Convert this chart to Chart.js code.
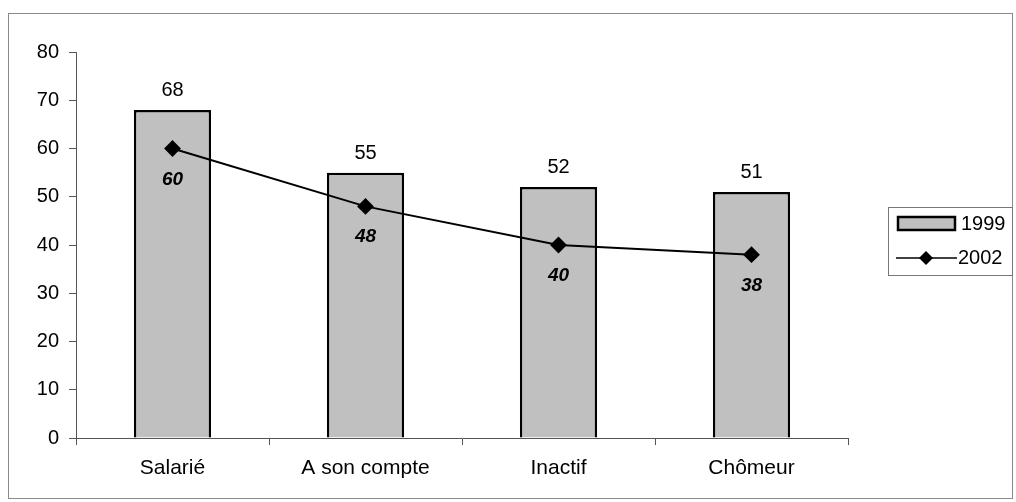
<!DOCTYPE html>
<html><head><meta charset="utf-8">
<script src="https://cdn.jsdelivr.net/npm/chart.js@4/dist/chart.umd.min.js"></script>
<style>html,body{margin:0;padding:0;background:#fff}#wrap{width:1016px;height:502px}</style>
</head><body><div id="wrap"><canvas id="c" width="1016" height="502"></canvas></div>
<script>
const categories = ["Salarié", "A son compte", "Inactif", "Chômeur"];
const values1999 = [68, 55, 52, 51];
const values2002 = [60, 48, 40, 38];
const yTicks = [0, 10, 20, 30, 40, 50, 60, 70, 80];
const seriesNames = ["1999", "2002"];

const FONT = "'Liberation Sans', Arial, sans-serif";

const decor = {
  id: 'decor',
  beforeDraw(chart) {
    const ctx = chart.ctx;
    ctx.save();
    ctx.strokeStyle = '#8a8a8a';
    ctx.lineWidth = 1;
    ctx.strokeRect(8.5, 13.5, 1004, 485);
    ctx.restore();
  },
  afterDatasetsDraw(chart) {
    const ctx = chart.ctx;
    ctx.save();
    ctx.fillStyle = '#000';
    ctx.textAlign = 'center';
    ctx.textBaseline = 'alphabetic';
    const mBar = chart.getDatasetMeta(1);
    ctx.font = '20px ' + FONT;
    mBar.data.forEach((el, i) => {
      ctx.fillText(String(values1999[i]), el.x, el.y - 14);
    });
    const mLine = chart.getDatasetMeta(0);
    ctx.font = 'italic bold 19px ' + FONT;
    mLine.data.forEach((el, i) => {
      ctx.fillText(String(values2002[i]), el.x, el.y + 36);
    });
    // legend
    const lx = 888, ly = 207, lw = 124, lh = 68;
    ctx.fillStyle = '#fff';
    ctx.fillRect(lx, ly, lw, lh);
    ctx.strokeStyle = '#777';
    ctx.lineWidth = 1;
    ctx.strokeRect(lx + 0.5, ly + 0.5, lw, lh);
    ctx.fillStyle = '#c0c0c0';
    ctx.fillRect(898, 217, 57, 13);
    ctx.strokeStyle = '#000';
    ctx.lineWidth = 2.5;
    ctx.strokeRect(898, 217, 57, 13);
    ctx.fillStyle = '#000';
    ctx.font = '20px ' + FONT;
    ctx.textAlign = 'left';
    ctx.textBaseline = 'middle';
    ctx.fillText(seriesNames[0], 961, 224);
    ctx.beginPath();
    ctx.moveTo(896, 258); ctx.lineTo(957, 258);
    ctx.lineWidth = 1.5; ctx.stroke();
    ctx.beginPath();
    ctx.moveTo(926, 251); ctx.lineTo(933, 258); ctx.lineTo(926, 265); ctx.lineTo(919, 258); ctx.closePath();
    ctx.fill();
    ctx.fillText(seriesNames[1], 958, 258);
    ctx.restore();
  }
};

new Chart(document.getElementById('c'), {
  data: {
    labels: categories,
    datasets: [
      {
        type: 'line', label: seriesNames[1], data: values2002,
        borderColor: '#000', backgroundColor: '#000', borderWidth: 2,
        pointStyle: 'rectRot', pointRadius: 7, pointHoverRadius: 7,
        tension: 0, order: 0
      },
      {
        type: 'bar', label: seriesNames[0], data: values1999,
        backgroundColor: '#c0c0c0', borderColor: '#000', borderWidth: 2.5,
        categoryPercentage: 0.8, barPercentage: 0.5, order: 1
      }
    ]
  },
  options: {
    responsive: false, animation: false,
    layout: { padding: { left: 16, right: 168, top: 52, bottom: 14 } },
    plugins: { legend: { display: false }, tooltip: { enabled: false } },
    scales: {
      x: {
        offset: true,
        grid: { offset: true, drawOnChartArea: false, tickLength: 7, color: '#555' },
        border: { color: '#555', width: 1 },
        ticks: { color: '#000', font: { family: FONT, size: 21 }, padding: 11 },
        afterFit(s) { s.height = 50; }
      },
      y: {
        min: 0, max: 80,
        afterBuildTicks(s) { s.ticks = yTicks.map(v => ({ value: v })); },
        grid: { drawOnChartArea: false, tickLength: 7, color: '#555' },
        border: { color: '#555', width: 1 },
        ticks: { color: '#000', font: { family: FONT, size: 20 }, padding: 10 },
        afterFit(s) { s.width = 60; }
      }
    }
  },
  plugins: [decor]
});
</script>
</body></html>
